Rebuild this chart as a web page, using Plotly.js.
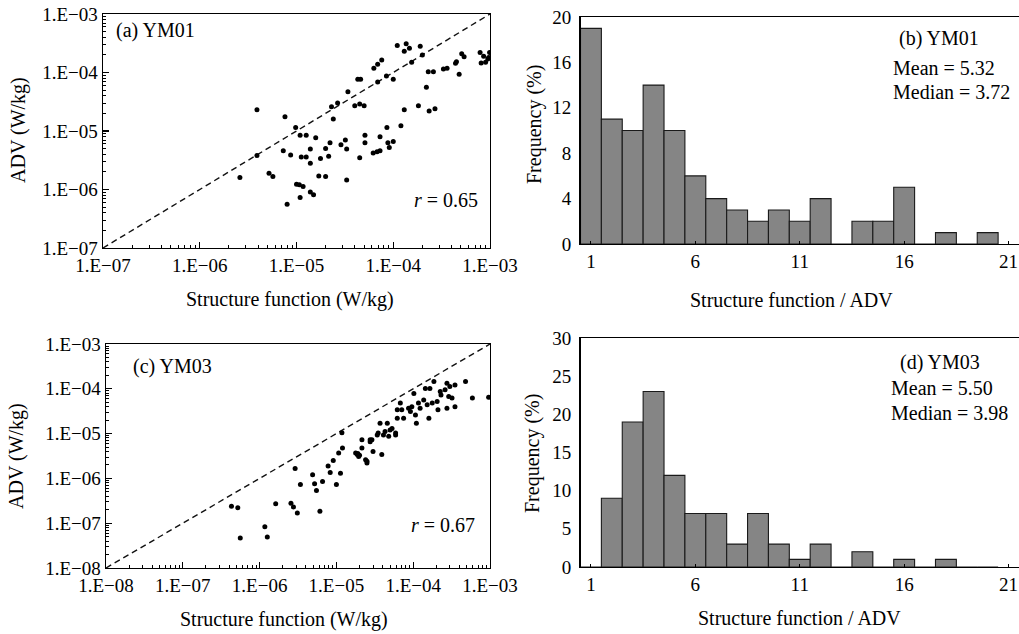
<!DOCTYPE html>
<html><head><meta charset="utf-8">
<script src="https://cdn.plot.ly/plotly-3.0.1.min.js"></script>
<style>html,body{margin:0;padding:0;background:#fff}#chart{width:1019px;height:634px}</style>
</head><body><div id="chart"></div>
<script>
// ---- Panel (a) YM01 scatter ----
const sfA = [2.6e-6,3.9e-6,3.9e-6,5.2e-6,5.7e-6,7.6e-6,7.3e-6,8.0e-6,8.7e-6,9.8e-6,
  1.0e-5,1.07e-5,1.17e-5,1.09e-5,1.09e-5,1.12e-5,1.26e-5,1.26e-5,1.39e-5,1.5e-5,
  1.39e-5,1.39e-5,1.58e-5,1.7e-5,1.77e-5,2.0e-5,2.0e-5,2.15e-5,2.22e-5,2.4e-5,
  2.3e-5,2.66e-5,2.88e-5,3.2e-5,3.3e-5,3.3e-5,3.4e-5,4.0e-5,4.3e-5,4.6e-5,
  4.5e-5,4.5e-5,5.0e-5,5.1e-5,5.1e-5,6.2e-5,6.8e-5,7.3e-5,7.3e-5,6.3e-5,
  6.9e-5,7.6e-5,6.9e-5,8.5e-5,8.6e-5,8.8e-5,9.1e-5,1.0e-4,1.0e-4,1.1e-4,
  1.2e-4,1.3e-4,1.3e-4,1.36e-4,1.47e-4,1.55e-4,1.82e-4,1.9e-4,2.0e-4,2.2e-4,
  2.35e-4,2.3e-4,2.6e-4,2.7e-4,3.3e-4,3.6e-4,4.4e-4,4.5e-4,4.8e-4,5.1e-4,
  5.4e-4,7.9e-4,8.6e-4,9.0e-4,9.5e-4,9.9e-4,8.1e-4,9.7e-4];
const advA = [1.6e-6,2.3e-5,3.8e-6,1.9e-6,1.66e-6,1.76e-5,4.6e-6,5.6e-7,3.9e-6,1.15e-5,
  1.23e-6,1.2e-6,1.13e-6,7.3e-7,8.5e-6,3.6e-6,3.6e-6,8.5e-6,9.1e-7,8.1e-7,
  2.8e-6,4.9e-6,7.7e-6,1.7e-6,3.4e-6,1.66e-6,5.0e-6,3.7e-6,6.3e-6,1.6e-5,
  2.6e-5,3.0e-5,5.8e-6,7.0e-6,1.45e-6,4.9e-6,4.7e-5,2.7e-5,7.7e-5,7.7e-5,
  2.9e-5,3.5e-6,2.7e-5,6.3e-6,8.5e-6,4.2e-6,4.4e-6,4.6e-6,8.0e-6,1.18e-4,
  1.38e-4,1.63e-4,6.9e-5,8.7e-5,1.15e-5,6.3e-6,5.2e-6,6.6e-6,7.7e-5,2.9e-4,
  1.23e-5,2.3e-5,2.3e-4,3.1e-4,2.6e-4,1.5e-4,2.7e-5,2.8e-4,2.0e-4,5.6e-5,
  2.2e-5,1.03e-4,1.03e-4,2.4e-5,1.15e-4,1.18e-4,1.44e-4,1.53e-4,9.3e-5,2.1e-4,
  1.86e-4,2.2e-4,1.9e-4,1.5e-4,1.7e-4,2.2e-4,1.45e-4,1.8e-4];

// ---- Panel (c) YM03 scatter ----
const sfC = [4.3e-7,5.2e-7,5.6e-7,1.17e-6,1.26e-6,1.62e-6,2.56e-6,2.76e-6,3.1e-6,2.9e-6,
  3.4e-6,4.9e-6,5.2e-6,5.5e-6,6.1e-6,6.6e-6,7.8e-6,8.3e-6,9.1e-6,1.0e-5,
  1.13e-5,1.07e-5,1.2e-5,1.18e-5,1.78e-5,1.87e-5,1.95e-5,1.9e-5,2.0e-5,2.15e-5,
  2.15e-5,2.4e-5,2.5e-5,2.5e-5,2.75e-5,2.9e-5,2.75e-5,3.0e-5,3.4e-5,3.5e-5,
  3.7e-5,3.9e-5,4.1e-5,4.3e-5,4.6e-5,4.8e-5,5.0e-5,5.3e-5,5.9e-5,5.9e-5,
  6.2e-5,6.2e-5,6.8e-5,7.1e-5,7.5e-5,8.7e-5,9.2e-5,9.6e-5,1.02e-4,1.07e-4,
  1.1e-4,1.17e-4,1.23e-4,1.37e-4,1.44e-4,1.52e-4,1.6e-4,1.65e-4,1.77e-4,1.86e-4,
  2.05e-4,2.1e-4,2.25e-4,2.3e-4,2.6e-4,2.75e-4,2.75e-4,2.9e-4,3.0e-4,3.2e-4,
  3.5e-4,3.5e-4,4.8e-4,5.9e-4,9.6e-4];
const advC = [2.4e-7,2.2e-7,4.7e-8,8.3e-8,4.9e-8,2.7e-7,2.8e-7,2.3e-7,1.7e-7,1.66e-6,
  7.3e-7,1.2e-6,7.6e-7,5.4e-7,1.85e-7,8.5e-7,1.9e-6,1.35e-6,2.5e-6,7.3e-7,
  1.3e-6,3.7e-6,4.8e-6,1.04e-5,3.7e-6,3.4e-6,3.1e-6,3.6e-6,3.3e-6,7.3e-6,
  4.8e-6,2.6e-6,2.2e-6,2.4e-6,6.6e-6,7.3e-6,7.3e-6,4.0e-6,9.3e-6,1.03e-5,
  1.7e-5,3.4e-6,9.3e-6,1.12e-5,1.7e-5,8.7e-6,1.2e-5,1.3e-5,1.03e-5,9.3e-6,
  3.4e-5,2.2e-5,4.8e-5,3.4e-5,2.2e-5,3.7e-5,3.1e-5,4.0e-5,7.9e-5,2.6e-5,
  1.7e-5,4.8e-5,3.7e-5,5.6e-5,1.02e-4,4.4e-5,2.2e-5,1.02e-4,4.8e-5,1.45e-4,
  5.2e-5,3.4e-5,8.7e-5,7.3e-5,9.5e-5,1.33e-4,3.7e-5,6.7e-5,1.12e-4,6.2e-5,
  1.22e-4,4.0e-5,1.45e-4,6.2e-5,6.5e-5];

// ---- Histograms ----
const binsB = [1,2,3,4,5,6,7,8,9,10,11,12,13,14,15,16,17,18,19,20];
const freqB = [19,11,10,14,10,6,4,3,2,3,2,4,0,2,2,5,0,1,0,1];
const binsD = [1,2,3,4,5,6,7,8,9,10,11,12,13,14,15,16,17,18,19,20];
const freqD = [0,9,19,23,12,7,7,3,7,3,1,3,0,2,0,1,0,1,0,0];

// ---- Axis ranges / ticks ----
const rangeA = [1e-7, 1e-3];
const rangeC = [1e-8, 1e-3];
const logTicksA = [1e-7,1e-6,1e-5,1e-4,1e-3];
const logTextA = ['1.E\u221207','1.E\u221206','1.E\u221205','1.E\u221204','1.E\u221203'];
const logTicksC = [1e-8,1e-7,1e-6,1e-5,1e-4,1e-3];
const logTextC = ['1.E\u221208','1.E\u221207','1.E\u221206','1.E\u221205','1.E\u221204','1.E\u221203'];
const histXTicks = [1,6,11,16,21];

const W = 1019, H = 634;
const fx = p => p / W;
const fy = p => 1 - p / H;
const FONT = 'Liberation Serif, Times New Roman, serif';
const tf = {family: FONT, size: 19, color: '#000'};

function minorVals(major) {
  const out = [];
  major.slice(0, -1).forEach(m => { for (let k = 2; k <= 9; k++) out.push(m * k); });
  return out;
}

function logAxis(range, tv, tt, dom, anchor) {
  return {type:'log', range:[Math.log10(range[0]), Math.log10(range[1])], domain:dom, anchor:anchor,
    showline:true, linecolor:'#000', linewidth:1.4, mirror:true, ticks:'inside', ticklen:6,
    tickcolor:'#000', tickwidth:1.2, tickvals:tv, ticktext:tt, tickfont:tf, showgrid:false, zeroline:false,
    minor:{ticks:'inside', ticklen:3, tickmode:'array', tickvals:minorVals(tv), tickcolor:'#000', tickwidth:1, showgrid:false}};
}

const dotStyle = {color:'#000', size:5, symbol:'circle'};
const dashStyle = {color:'#111', width:1.4, dash:'6px,4px'};
const barStyle = {color:'#858585', line:{color:'#1a1a1a', width:1.1}};

const data = [
  {x: rangeA, y: rangeA, mode:'lines', line:dashStyle, xaxis:'x', yaxis:'y', hoverinfo:'skip'},
  {x: sfA, y: advA, mode:'markers', marker:dotStyle, xaxis:'x', yaxis:'y'},
  {x: binsB, y: freqB, type:'bar', width:1, marker:barStyle, xaxis:'x2', yaxis:'y2'},
  {x: rangeC, y: rangeC, mode:'lines', line:dashStyle, xaxis:'x3', yaxis:'y3', hoverinfo:'skip'},
  {x: sfC, y: advC, mode:'markers', marker:dotStyle, xaxis:'x3', yaxis:'y3'},
  {x: binsD, y: freqD, type:'bar', width:1, marker:barStyle, xaxis:'x4', yaxis:'y4'}
];

function histX(dom, anchor) {
  return {range:[0.5,21.5], domain:dom, anchor:anchor, showline:true, linecolor:'#000', linewidth:1.4,
    mirror:true, ticks:'inside', ticklen:3, tickcolor:'#000', tickvals:histXTicks, tickfont:tf,
    showgrid:false, zeroline:false};
}
function histY(range, dt, dom, anchor) {
  return {range:range, dtick:dt, domain:dom, anchor:anchor, showline:true, linecolor:'#000', linewidth:1.4,
    ticks:'', tickfont:tf, showgrid:false, zeroline:false, ticklabelstandoff:4};
}

function ann(text, x, y, opts) {
  return Object.assign({text:text, x:fx(x), y:fy(y), xref:'paper', yref:'paper', showarrow:false,
    font:{family:FONT, size:20, color:'#000'}, xanchor:'left', yanchor:'middle'}, opts || {});
}

const layout = {
  width:W, height:H, margin:{l:0,r:0,t:0,b:0}, paper_bgcolor:'#fff', plot_bgcolor:'#fff',
  showlegend:false, bargap:0,
  xaxis: logAxis(rangeA, logTicksA, logTextA, [fx(103), fx(490)], 'y'),
  yaxis: logAxis(rangeA, logTicksA, logTextA, [fy(248), fy(14)], 'x'),
  xaxis2: histX([fx(580.5), 1], 'y2'),
  yaxis2: histY([0,20], 4, [fy(244), fy(17)], 'x2'),
  xaxis3: logAxis(rangeC, logTicksC, logTextC, [fx(106), fx(490)], 'y3'),
  yaxis3: logAxis(rangeC, logTicksC, logTextC, [fy(568), fy(344)], 'x3'),
  xaxis4: histX([fx(580.5), 1], 'y4'),
  yaxis4: histY([0,30], 5, [fy(567), fy(338)], 'x4'),
  annotations: [
    ann('ADV (W/kg)', 18, 130, {xanchor:'center', textangle:-90}),
    ann('ADV (W/kg)', 16, 456, {xanchor:'center', textangle:-90}),
    ann('Structure function (W/kg)', 290, 300, {xanchor:'center'}),
    ann('Structure function (W/kg)', 284, 619, {xanchor:'center'}),
    ann('Frequency (%)', 534, 125, {xanchor:'center', textangle:-90}),
    ann('Frequency (%)', 532, 454, {xanchor:'center', textangle:-90}),
    ann('Structure function / ADV', 791, 300, {xanchor:'center'}),
    ann('Structure function / ADV', 799, 618, {xanchor:'center'}),
    ann('(a) YM01', 114, 30),
    ann('<i>r</i> = 0.65', 412, 200),
    ann('(c) YM03', 131, 366),
    ann('<i>r</i> = 0.67', 409, 525),
    ann('(b) YM01', 897, 39),
    ann('Mean = 5.32', 891, 68),
    ann('Median = 3.72', 891, 92),
    ann('(d) YM03', 898, 362),
    ann('Mean = 5.50', 889, 388),
    ann('Median = 3.98', 889, 413)
  ]
};

Plotly.newPlot('chart', data, layout, {staticPlot:true, displayModeBar:false});
</script></body></html>
